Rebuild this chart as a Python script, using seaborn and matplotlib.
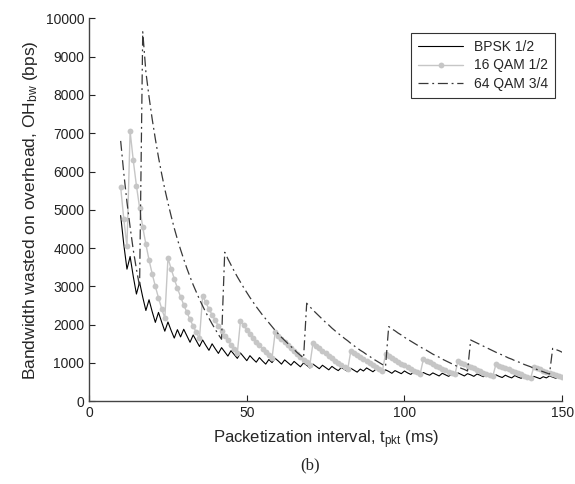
import matplotlib
matplotlib.use("Agg")
import matplotlib.pyplot as plt
import seaborn as sns
import pandas as pd

# packetization interval (ms)
t_ms = list(range(10, 151))

# bandwidth wasted on overhead (bps)
bpsk = [4850, 4090, 3450, 3780, 3260, 2800, 3110, 2720, 2370, 2650,
        2340, 2060, 2320, 2070, 1830, 2070, 1850, 1650, 1870, 1680,
        1880, 1710, 1540, 1730, 1580, 1430, 1600, 1460, 1330, 1500,
        1370, 1250, 1400, 1290, 1180, 1320, 1220, 1120, 1260, 1160,
        1060, 1190, 1100, 1020, 1140, 1050, 970, 1090, 1010, 1120,
        1050, 970, 1080, 1010, 940, 1040, 970, 900, 1000, 940,
        870, 970, 910, 850, 940, 880, 820, 910, 850, 800,
        880, 830, 780, 860, 810, 760, 840, 790, 870, 820,
        770, 840, 800, 750, 820, 780, 730, 800, 760, 720,
        790, 740, 700, 770, 730, 690, 750, 710, 680, 740,
        700, 660, 730, 690, 650, 710, 680, 740, 700, 660,
        720, 690, 650, 710, 680, 640, 700, 660, 630, 690,
        650, 620, 680, 640, 610, 670, 630, 600, 660, 630,
        600, 650, 620, 590, 640, 610, 660, 630, 600, 650,
        620]

qam16 = [5600, 4750, 4050, 7050, 6290, 5630, 5060, 4550, 4100, 3690,
         3330, 3000, 2700, 2420, 2170, 3740, 3460, 3200, 2950, 2730,
         2520, 2320, 2140, 1960, 1800, 1640, 2750, 2580, 2410, 2260,
         2110, 1970, 1840, 1710, 1590, 1480, 1370, 1260, 2100, 1980,
         1870, 1760, 1660, 1560, 1470, 1370, 1280, 1200, 1120, 1800,
         1710, 1620, 1540, 1460, 1380, 1300, 1230, 1150, 1080, 1020,
         950, 1520, 1450, 1380, 1310, 1250, 1180, 1120, 1060, 1000,
         940, 890, 830, 1320, 1260, 1210, 1150, 1100, 1040, 990,
         940, 890, 840, 790, 1230, 1170, 1120, 1080, 1030, 980,
         940, 890, 850, 800, 760, 720, 1100, 1060, 1020, 970,
         930, 890, 850, 810, 770, 740, 700, 1050, 1010, 970,
         930, 890, 860, 820, 780, 750, 710, 680, 650, 960,
         930, 890, 860, 830, 790, 760, 730, 700, 670, 630,
         600, 890, 860, 830, 800, 770, 740, 710, 680, 650,
         620]

qam64 = [6800, 5950, 5200, 4550, 3950, 3450, 3000, 9650, 8600, 7950,
         7370, 6850, 6370, 5940, 5540, 5180, 4840, 4520, 4230, 3960,
         3710, 3470, 3250, 3040, 2850, 2660, 2490, 2320, 2170, 2020,
         1880, 1740, 1620, 3890, 3720, 3560, 3400, 3250, 3110, 2970,
         2840, 2710, 2590, 2470, 2360, 2250, 2150, 2050, 1950, 1850,
         1760, 1670, 1590, 1510, 1430, 1350, 1270, 1200, 1130, 2560,
         2470, 2380, 2300, 2220, 2140, 2060, 1990, 1910, 1840, 1770,
         1710, 1640, 1580, 1510, 1450, 1390, 1330, 1280, 1220, 1170,
         1110, 1060, 1010, 960, 910, 1950, 1890, 1840, 1780, 1730,
         1670, 1620, 1570, 1520, 1470, 1420, 1370, 1330, 1280, 1230,
         1190, 1150, 1100, 1060, 1020, 980, 940, 900, 860, 830,
         790, 1600, 1560, 1520, 1480, 1440, 1400, 1360, 1320, 1280,
         1240, 1210, 1170, 1130, 1100, 1060, 1030, 1000, 960, 930,
         900, 860, 830, 800, 770, 740, 710, 1380, 1350, 1320,
         1280]

names = ["BPSK 1/2", "16 QAM 1/2", "64 QAM 3/4"]

df = pd.DataFrame({"t": t_ms, names[0]: bpsk, names[1]: qam16, names[2]: qam64})

sns.set_style("ticks")
plt.rcParams['font.family'] = ['Liberation Sans', 'DejaVu Sans']
plt.rcParams['mathtext.default'] = 'regular'

fig = plt.figure(figsize=(5.75, 4.84), dpi=100)
ax = fig.add_axes([0.155, 0.171, 0.8226, 0.791])

sns.lineplot(data=df, x="t", y=names[0], ax=ax, color="black", lw=0.8, label=names[0])
sns.lineplot(data=df, x="t", y=names[1], ax=ax, color="#c6c6c6", lw=1.0,
             marker="o", markersize=4.2, markeredgewidth=0, label=names[1])
sns.lineplot(data=df, x="t", y=names[2], ax=ax, color="#383838", lw=0.9,
             linestyle=(0, (8, 3, 1.5, 3)), label=names[2])

ax.set_xlim(0, 150)
ax.set_ylim(0, 10000)
ax.set_xticks([0, 50, 100, 150])
ax.set_yticks(range(0, 10001, 1000))
ax.tick_params(direction="in", length=4, labelsize=10, colors="#222222")
sns.despine(ax=ax)
for s in ["left", "bottom"]:
    ax.spines[s].set_color("#444444")
    ax.spines[s].set_linewidth(1.0)

ax.set_xlabel("Packetization interval, t$_{pkt}$ (ms)", fontsize=12, labelpad=6)
ax.set_ylabel("Bandwidth wasted on overhead, OH$_{bw}$ (bps)", fontsize=12.5, labelpad=4)

leg = ax.legend(loc="upper right", bbox_to_anchor=(0.985, 0.961), borderaxespad=0,
                fontsize=10, frameon=True, fancybox=False, handlelength=3.2,
                labelspacing=0.3, borderpad=0.5)
leg.get_frame().set_edgecolor("black")
leg.get_frame().set_linewidth(0.8)

fig.text(0.54, 0.039, "(b)", ha="center", va="center", fontsize=12,
         family=["Liberation Serif", "DejaVu Serif"])

fig.savefig("out.png", dpi=100)
